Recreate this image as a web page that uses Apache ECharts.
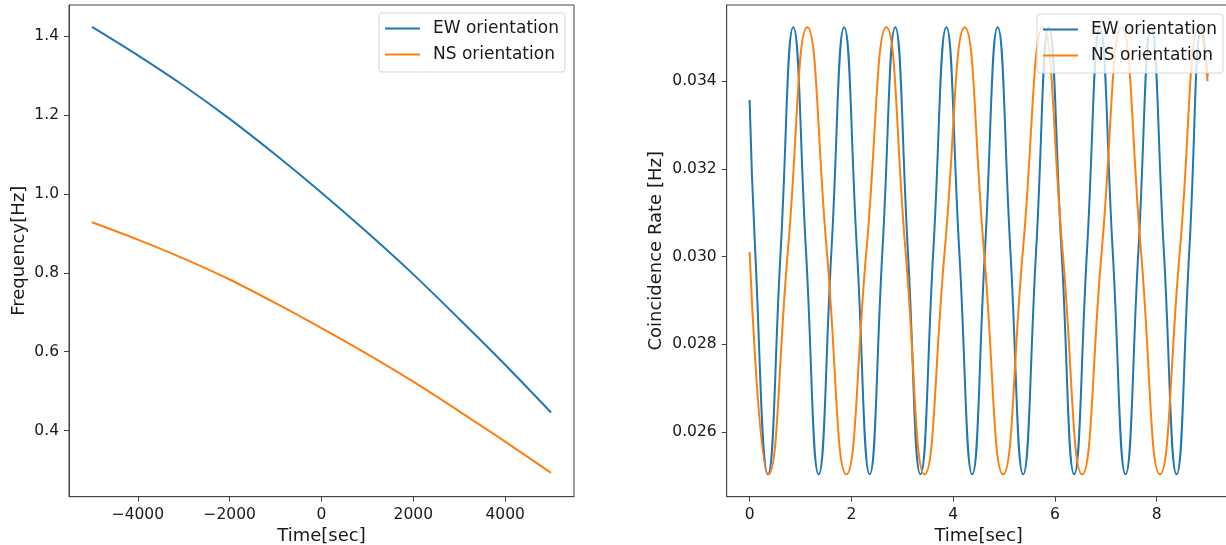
<!DOCTYPE html>
<html>
<head>
<meta charset="utf-8">
<script src="https://cdn.jsdelivr.net/npm/echarts@6/dist/echarts.min.js"></script>
<style>
html,body{margin:0;padding:0;background:#fff;}
#chart{width:1226px;height:545px;}
</style>
</head>
<body>
<div id="chart"></div>
<script>
// Left panel: frequency vs time
const leftTime = [-5000,-4000,-3000,-2000,-1000,0,1000,2000,3000,4000,5000];
const ewFreq = [1.423,1.351,1.274,1.190,1.099,1.003,0.902,0.796,0.683,0.567,0.446];
const nsFreq = [0.928,0.884,0.836,0.783,0.723,0.660,0.594,0.524,0.449,0.372,0.293];
const leftXTicks = [-4000,-2000,0,2000,4000];
const leftYTicks = [0.4,0.6,0.8,1.0,1.2,1.4];

// Right panel: coincidence rate vs time (extrema and mid-level crossings)
const ewTime = [0,0.11,0.36,0.61,0.858,1.108,1.357,1.608,1.858,2.11,2.36,2.61,2.862,3.11,3.357,3.61,3.866,4.12,4.375,4.625,4.875,5.125,5.376,5.63,5.877,6.13,6.378,6.63,6.883,7.135,7.388,7.64,7.89,8.14,8.391,8.64,8.89,9.0];
const ewRate = [0.03357,0.03013,0.02503,0.03013,0.03523,0.03013,0.02503,0.03013,0.03523,0.03013,0.02503,0.03013,0.03523,0.03013,0.02503,0.03013,0.03523,0.03013,0.02503,0.03013,0.03523,0.03013,0.02503,0.03013,0.03523,0.03013,0.02503,0.03013,0.03523,0.03013,0.02503,0.03013,0.03523,0.03013,0.02503,0.03013,0.03523,0.0341];
const nsTime = [0,0.37,0.752,1.134,1.517,1.901,2.295,2.688,3.064,3.44,3.834,4.228,4.605,4.982,5.37,5.765,6.15,6.535,6.92,7.31,7.69,8.063,8.455,8.845,9.0];
const nsRate = [0.0301,0.02503,0.03013,0.03523,0.03013,0.02503,0.03013,0.03523,0.03013,0.02503,0.03013,0.03523,0.03013,0.02503,0.03013,0.03523,0.03013,0.02503,0.03013,0.03523,0.03013,0.02503,0.03013,0.03523,0.0340];
const rightXTicks = [0,2,4,6,8];
const rightYTicks = [0.026,0.028,0.030,0.032,0.034];

const seriesNames = ['EW orientation','NS orientation'];
const colors = ['#1f77b4','#ff7f0e'];

function zip(xs, ys){ return xs.map((x,i)=>[x, ys[i]]); }
function fmtNum(v, d){ return (v < 0 ? '\u2212' : '') + Math.abs(v).toFixed(d); }

const FONT = 'DejaVu Sans';
const txt = {color:'#1a1a1a', fontFamily: FONT, fontSize: 15.5};
const nameTxt = {color:'#1a1a1a', fontFamily: FONT, fontSize: 18};

function xAxisCfg(gridIndex, min, max, ticks, dec){
  return {
    type:'value', gridIndex, min, max,
    name:'Time[sec]', nameLocation:'middle', nameGap: 31,
    nameTextStyle: nameTxt,
    axisLine:{show:true, onZero:false, lineStyle:{color:'#444', width:1}},
    axisTick:{show:true, length:5, customValues: ticks, lineStyle:{color:'#444'}},
    axisLabel:Object.assign({customValues: ticks, margin:10, formatter: v => fmtNum(v, dec)}, txt),
    splitLine:{show:false}
  };
}
function yAxisCfg(gridIndex, min, max, ticks, dec, name, gap){
  return {
    type:'value', gridIndex, min, max,
    name, nameLocation:'middle', nameGap: gap,
    nameTextStyle: nameTxt,
    axisLine:{show:true, onZero:false, lineStyle:{color:'#444', width:1}},
    axisTick:{show:true, length:5, customValues: ticks, lineStyle:{color:'#444'}},
    axisLabel:Object.assign({customValues: ticks, margin:10, formatter: v => fmtNum(v, dec)}, txt),
    splitLine:{show:false}
  };
}
function legendCfg(left, top){
  return {
    data: seriesNames, orient:'vertical', left, top,
    selectedMode:false, icon:'rect', itemWidth:35, itemHeight:2, itemGap:7,
    padding:[6,6,8,6],
    backgroundColor:'rgba(255,255,255,0.8)', borderColor:'#d6d6d6', borderWidth:1, borderRadius:3,
    textStyle:{color:'#1a1a1a', fontFamily: FONT, fontSize:17, lineHeight:19, padding:[0,0,0,8]}
  };
}
function lineSeries(name, xi, data, color, smooth){
  return {
    type:'line', name, xAxisIndex:xi, yAxisIndex:xi, data, smooth,
    showSymbol:false, symbol:'none', color,
    lineStyle:{color, width:2}, animation:false
  };
}

const chart = echarts.init(document.getElementById('chart'), null, {renderer:'canvas'});
chart.setOption({
  animation:false,
  backgroundColor:'#fff',
  grid:[
    {left:69, top:5, width:505, height:491.7, containLabel:false, outerBoundsMode:'none', show:true, borderColor:'#444', borderWidth:1, backgroundColor:'transparent'},
    {left:726.7, top:5, width:503.8, height:491.7, containLabel:false, outerBoundsMode:'none', show:true, borderColor:'#444', borderWidth:1, backgroundColor:'transparent'}
  ],
  xAxis:[
    xAxisCfg(0, -5500, 5500, leftXTicks, 0),
    xAxisCfg(1, -0.45, 9.45, rightXTicks, 0)
  ],
  yAxis:[
    yAxisCfg(0, 0.2326, 1.4786, leftYTicks, 1, 'Frequency[Hz]', 41),
    yAxisCfg(1, 0.02452, 0.03574, rightYTicks, 3, 'Coincidence Rate [Hz]', 61)
  ],
  legend:[ legendCfg(379, 13), legendCfg(1037, 14) ],
  series:[
    lineSeries(seriesNames[0], 0, zip(leftTime, ewFreq), colors[0], 0.3),
    lineSeries(seriesNames[1], 0, zip(leftTime, nsFreq), colors[1], 0.3),
    lineSeries(seriesNames[0], 1, zip(ewTime, ewRate), colors[0], 0.5),
    lineSeries(seriesNames[1], 1, zip(nsTime, nsRate), colors[1], 0.5)
  ]
});
</script>
</body>
</html>
